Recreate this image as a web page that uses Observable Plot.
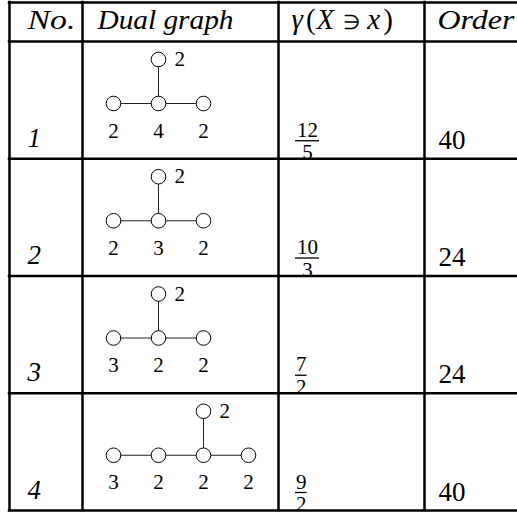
<!DOCTYPE html>
<html><head><meta charset="utf-8">
<script src="https://cdn.jsdelivr.net/npm/d3@7"></script>
<script src="https://cdn.jsdelivr.net/npm/@observablehq/plot@0.6"></script>
<style>html,body{margin:0;padding:0;background:#fff;overflow:hidden} svg{display:block}</style>
</head><body><div id="chart"></div>
<script>
// ---- data ----
const headers = ["No.", "Dual graph", "γ(X ∋ x)", "Order"];
const rowNumbers = ["1", "2", "3", "4"];
const chainWeights = [[2, 4, 2], [2, 3, 2], [3, 2, 2], [3, 2, 2, 2]];
const branchIndex = [1, 1, 1, 2];
const branchWeights = [2, 2, 2, 2];
const gammaNumerators = ["12", "10", "7", "9"];
const gammaDenominators = ["5", "3", "2", "2"];
const orders = ["40", "24", "24", "40"];

// ---- layout ----
const W = 517, H = 512;
const colEdges = [9, 82, 278, 424];
const tableTop = 2, headerBottom = 41, tableBottom = 510;
const rowH = (tableBottom - headerBottom) / rowNumbers.length;
const rowTop = i => headerBottom + i * rowH;
const rowBottom = i => rowTop(i + 1);
const nodeX0 = 113, nodeDx = 45;
const font = "Liberation Serif";

const rows = rowNumbers.map((n, i) => ({
  i, n, order: orders[i], num: gammaNumerators[i], den: gammaDenominators[i]
}));

const chainNodes = rows.flatMap(r => chainWeights[r.i].map((w, j) => ({
  x: nodeX0 + j * nodeDx, y: rowTop(r.i) + 62, w, row: r.i
})));
const branchNodes = rows.map(r => ({
  x: nodeX0 + branchIndex[r.i] * nodeDx, y: rowTop(r.i) + 18, w: branchWeights[r.i], row: r.i
}));
const edges = [
  ...rows.flatMap(r => chainWeights[r.i].slice(1).map((_, j) => ({
    x1: nodeX0 + j * nodeDx, x2: nodeX0 + (j + 1) * nodeDx,
    y1: rowTop(r.i) + 62, y2: rowTop(r.i) + 62
  }))),
  ...branchNodes.map(b => ({x1: b.x, x2: b.x, y1: b.y, y2: rowTop(b.row) + 62}))
];

const fracX = 295, fracChar = 12.5;
const fracW = s => s.length * fracChar - 1;

const hLines = [tableTop, headerBottom, ...rows.map(r => rowBottom(r.i))];
const headerX = [27, 97, 291, 437];
const headerWidth = [48, 136, null, 77];

const svg = Plot.plot({
  width: W, height: H, margin: 0,
  x: {domain: [0, W], range: [0, W], axis: null},
  y: {domain: [0, H], range: [0, H], axis: null},
  style: {fontFamily: font, background: "white", color: "black", overflow: "hidden"},
  marks: [
    // header
    Plot.text(headers, {x: (d, i) => headerX[i], y: 28, text: d => d, textAnchor: "start",
      lineAnchor: "bottom", fontSize: 28, fontStyle: "italic", fill: "black"}),
    // row numbers
    Plot.text(rows, {x: 27, y: r => rowBottom(r.i) - 12, text: "n", textAnchor: "start",
      lineAnchor: "bottom", fontSize: 27, fontStyle: "italic", fill: "black"}),
    // orders
    Plot.text(rows, {x: 438, y: r => rowBottom(r.i) - 10, text: "order", textAnchor: "start",
      lineAnchor: "bottom", fontSize: 27, fill: "black"}),
    // fractions
    Plot.text(rows, {x: r => fracX + fracW(r.num) / 2, y: r => rowBottom(r.i) - 22, text: "num",
      lineAnchor: "bottom", fontSize: 21, fill: "black"}),
    Plot.text(rows, {x: r => fracX + fracW(r.num) / 2, y: r => rowBottom(r.i) + 0.5, text: "den",
      lineAnchor: "bottom", fontSize: 21, fill: "black"}),
    Plot.ruleY(rows, {y: r => rowBottom(r.i) - 18, x1: fracX, x2: r => fracX + fracW(r.num),
      stroke: "black", strokeWidth: 1.3}),
    // graph
    Plot.link(edges, {x1: "x1", y1: "y1", x2: "x2", y2: "y2", stroke: "#222", strokeWidth: 1}),
    Plot.dot([...chainNodes, ...branchNodes], {x: "x", y: "y", r: 7.3, fill: "white",
      stroke: "black", strokeWidth: 1}),
    Plot.text(chainNodes, {x: "x", y: d => rowTop(d.row) + 96, text: "w", lineAnchor: "bottom",
      fontSize: 21, fill: "black"}),
    Plot.text(branchNodes, {x: d => d.x + 16, y: "y", text: "w", textAnchor: "start",
      lineAnchor: "middle", fontSize: 21, fill: "black"}),
    // table rules (drawn last, on top)
    Plot.ruleY(hLines, {y: d => d, x1: colEdges[0] - 1.25, x2: W, stroke: "black", strokeWidth: 2.5}),
    Plot.ruleX(colEdges, {x: d => d, y1: tableTop - 1.25, y2: tableBottom + 1.25, stroke: "black", strokeWidth: 2.5})
  ]
});

// header widths closer to the original typesetting
d3.select(svg).selectAll("text").each(function() {
  const k = headers.indexOf(this.textContent);
  if (k >= 0 && headerWidth[k]) {
    d3.select(this).attr("textLength", headerWidth[k]).attr("lengthAdjust", "spacingAndGlyphs");
  }
});

// mixed math styling for the gamma header: flowing tspans with small extra gaps
d3.select(svg).selectAll("text").filter(function() { return this.textContent === headers[2]; })
  .each(function() {
    const t = d3.select(this);
    t.text(null);
    [["γ", true, 0, 29], ["(", false, 3, 29], ["X", true, 1, 29],
     ["∋", false, 9, 20], ["x", true, 7, 29], [")", false, 3, 29]]
      .forEach(([s, it, dx, fs]) => t.append("tspan")
        .attr("dx", dx).attr("font-size", fs)
        .attr("font-style", it ? "italic" : "normal").text(s));
  });

document.getElementById("chart").appendChild(svg);
</script>
</body></html>
